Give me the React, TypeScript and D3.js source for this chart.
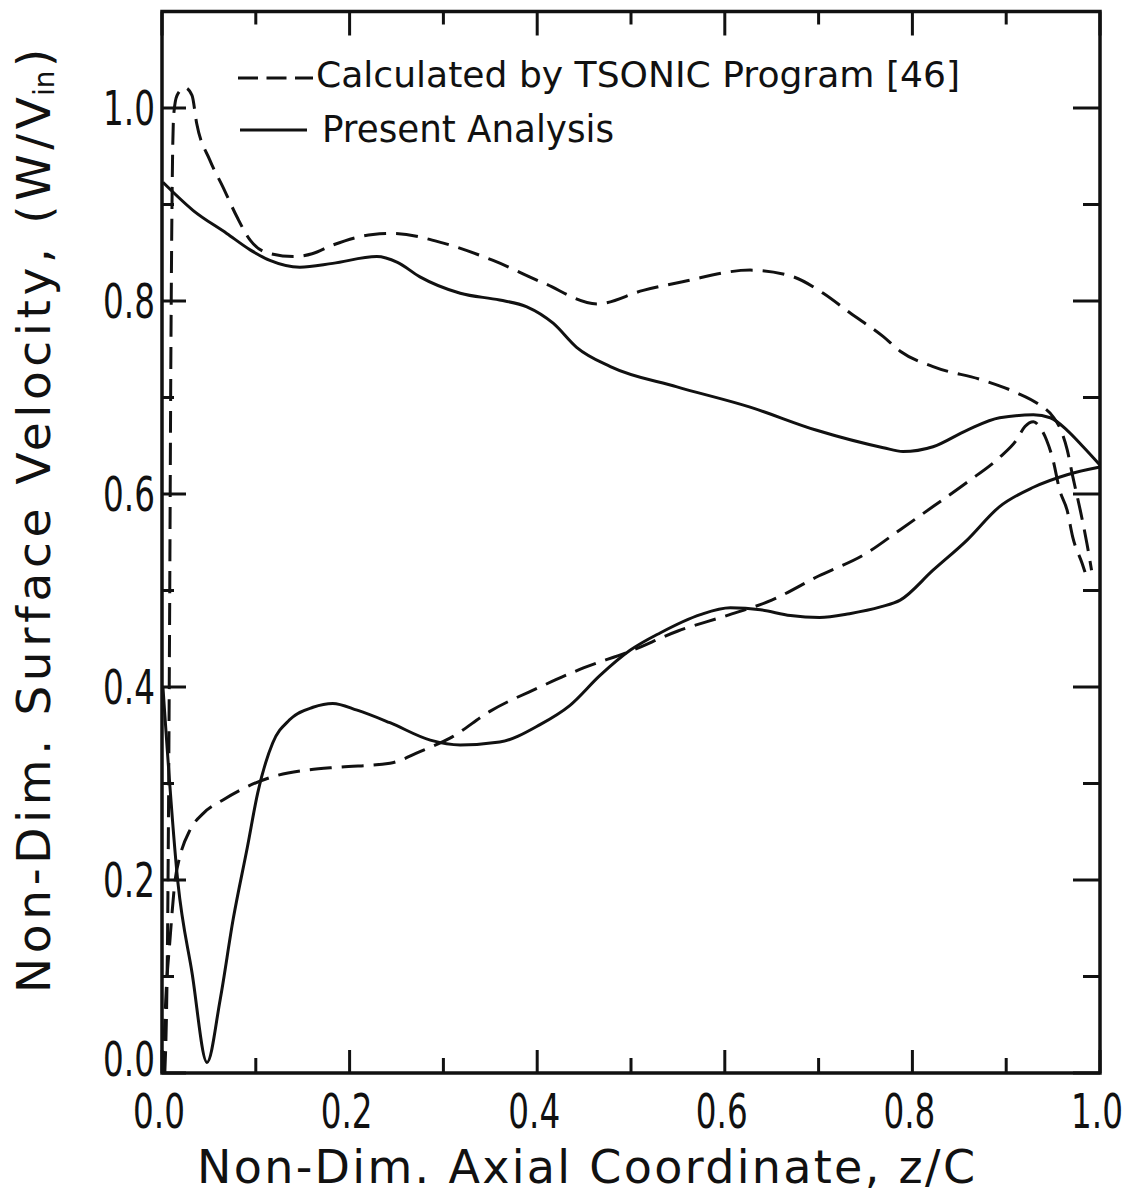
import React from "react";
import * as d3 from "d3";

// ---- data ----
const xTickLabels = ["0.0", "0.2", "0.4", "0.6", "0.8", "1.0"];
const xTickValues = [0, 0.2, 0.4, 0.6, 0.8, 1.0];
const xMinorValues = [0.1, 0.3, 0.5, 0.7, 0.9];
const yTickLabels = ["0.0", "0.2", "0.4", "0.6", "0.8", "1.0"];
const yTickValues = [0, 0.2, 0.4, 0.6, 0.8, 1.0];
const yMinorValues = [0.1, 0.3, 0.5, 0.7, 0.9];

// TSONIC, suction surface (dashed)
const tsonicSuction: [number, number][] = [
  [0.003, 0.0], [0.006, 0.15], [0.008, 0.45], [0.0095, 0.75], [0.011, 0.93],
  [0.0125, 0.993], [0.016, 1.013], [0.0245, 1.021], [0.032, 1.013], [0.037, 0.984],
  [0.051, 0.946], [0.065, 0.918], [0.08, 0.887], [0.094, 0.863], [0.112, 0.85],
  [0.14, 0.846], [0.16, 0.849], [0.182, 0.858], [0.225, 0.869], [0.246, 0.87],
  [0.3, 0.86], [0.353, 0.842], [0.406, 0.819], [0.464, 0.797], [0.513, 0.811],
  [0.555, 0.82], [0.627, 0.832], [0.67, 0.826], [0.705, 0.808], [0.733, 0.788],
  [0.769, 0.763], [0.787, 0.748], [0.822, 0.732], [0.875, 0.718], [0.911, 0.705],
  [0.933, 0.694], [0.95, 0.68], [0.957, 0.669], [0.965, 0.646], [0.971, 0.618],
  [0.979, 0.583], [0.986, 0.549], [0.991, 0.521],
];

// TSONIC, pressure surface (dashed)
const tsonicPressure: [number, number][] = [
  [0.001, 0.0], [0.004, 0.076], [0.0085, 0.138], [0.014, 0.2], [0.019, 0.224],
  [0.03, 0.252], [0.044, 0.269], [0.065, 0.283], [0.083, 0.293], [0.118, 0.307],
  [0.155, 0.314], [0.19, 0.317], [0.243, 0.321], [0.275, 0.333], [0.307, 0.347],
  [0.35, 0.375], [0.403, 0.4], [0.45, 0.42], [0.499, 0.437], [0.55, 0.458],
  [0.602, 0.474], [0.65, 0.49], [0.7, 0.515], [0.75, 0.538], [0.787, 0.563],
  [0.822, 0.587], [0.858, 0.612], [0.893, 0.638], [0.911, 0.656], [0.92, 0.67],
  [0.929, 0.675], [0.936, 0.669], [0.943, 0.656], [0.95, 0.635], [0.957, 0.604],
  [0.965, 0.583], [0.971, 0.555], [0.981, 0.528], [0.984, 0.519],
];

// Present analysis, suction surface (solid)
const presentSuction: [number, number][] = [
  [0.001, 0.923], [0.033, 0.894], [0.069, 0.87], [0.094, 0.853], [0.115, 0.842],
  [0.147, 0.835], [0.182, 0.839], [0.229, 0.846], [0.251, 0.84], [0.275, 0.825],
  [0.318, 0.808], [0.36, 0.801], [0.389, 0.794], [0.417, 0.777], [0.442, 0.752],
  [0.478, 0.732], [0.549, 0.711], [0.627, 0.69], [0.698, 0.666], [0.769, 0.648],
  [0.79, 0.644], [0.822, 0.649], [0.858, 0.666], [0.893, 0.679], [0.929, 0.682],
  [0.947, 0.679], [0.965, 0.666], [0.982, 0.649], [1.0, 0.63],
];

// Present analysis, pressure surface (solid)
const presentPressure: [number, number][] = [
  [0.001, 0.40], [0.017, 0.197], [0.032, 0.104], [0.048, 0.011], [0.062, 0.076],
  [0.076, 0.16], [0.091, 0.234], [0.102, 0.29], [0.118, 0.342], [0.136, 0.366],
  [0.161, 0.379], [0.182, 0.383], [0.208, 0.376], [0.243, 0.363], [0.286, 0.345],
  [0.318, 0.34], [0.36, 0.343], [0.403, 0.361], [0.435, 0.381], [0.467, 0.412],
  [0.499, 0.438], [0.531, 0.456], [0.574, 0.475], [0.606, 0.482], [0.638, 0.48],
  [0.67, 0.474], [0.701, 0.472], [0.733, 0.476], [0.766, 0.483], [0.787, 0.49],
  [0.822, 0.521], [0.858, 0.552], [0.893, 0.587], [0.929, 0.607], [0.965, 0.62],
  [1.0, 0.628],
];

const legendLabels = ["Calculated by TSONIC Program [46]", "Present Analysis"];
const xTitle = "Non-Dim. Axial Coordinate, z/C";
const yTitleMain = "Non-Dim. Surface Velocity, (W/V";
const yTitleSub = "in";
const yTitleEnd = ")";

export default function App() {
  const W = 1143;
  const H = 1195;
  const x = d3.scaleLinear().domain([0, 1]).range([162, 1100]);
  const y = d3.scaleLinear().domain([0, 1.1]).range([1073, 1073 - 1.1 * 965]);

  const line = d3
    .line<[number, number]>()
    .x((d) => x(d[0]))
    .y((d) => y(d[1]))
    .curve(d3.curveMonotoneX);

  const numFont = "'DejaVu Sans', 'Liberation Sans', sans-serif";
  const txtFont = "'DejaVu Sans', 'Liberation Sans', sans-serif";
  const ink = "#111";
  const squeeze = 0.68;

  const x0 = x(0), x1 = x(1), yb = y(0), yt = y(1.1);

  return (
    <svg
      width={W}
      height={H}
      viewBox={`0 0 ${W} ${H}`}
      style={{ position: "absolute", left: 0, top: 0, background: "#fff" }}
    >
      <rect x={0} y={0} width={W} height={H} fill="#fff" />
      {/* frame */}
      <rect x={x0} y={yt} width={x1 - x0} height={yb - yt} fill="none" stroke={ink} strokeWidth={3.5} />

      {/* left / right ticks */}
      {yTickValues.map((v) => (
        <g key={"ym" + v}>
          <line x1={x0} x2={x0 + 24} y1={y(v)} y2={y(v)} stroke={ink} strokeWidth={3} />
          <line x1={x1} x2={x1 - 27} y1={y(v)} y2={y(v)} stroke={ink} strokeWidth={3} />
        </g>
      ))}
      {yMinorValues.map((v) => (
        <g key={"yn" + v}>
          <line x1={x0} x2={x0 + 12} y1={y(v)} y2={y(v)} stroke={ink} strokeWidth={3} />
          <line x1={x1} x2={x1 - 17} y1={y(v)} y2={y(v)} stroke={ink} strokeWidth={3} />
        </g>
      ))}
      {/* bottom / top ticks */}
      {xTickValues.map((v) => (
        <g key={"xm" + v}>
          <line x1={x(v)} x2={x(v)} y1={yb} y2={yb - 23} stroke={ink} strokeWidth={3} />
          <line x1={x(v)} x2={x(v)} y1={yt} y2={yt + 24} stroke={ink} strokeWidth={3} />
        </g>
      ))}
      {xMinorValues.map((v) => (
        <g key={"xn" + v}>
          <line x1={x(v)} x2={x(v)} y1={yb} y2={yb - 15} stroke={ink} strokeWidth={3} />
          <line x1={x(v)} x2={x(v)} y1={yt} y2={yt + 13} stroke={ink} strokeWidth={3} />
        </g>
      ))}

      {/* tick labels */}
      {xTickValues.map((v, i) => (
        <text key={"xl" + v} transform={`translate(${x(v) - 3}, 1128) scale(${squeeze}, 1)`}
          textAnchor="middle" fontFamily={numFont} fontSize={48} fill={ink}>
          {xTickLabels[i]}
        </text>
      ))}
      {yTickValues.map((v, i) => (
        <text key={"yl" + v} transform={`translate(155, ${v === 0 ? y(v) + 3 : y(v) + 17}) scale(${squeeze}, 1)`}
          textAnchor="end" fontFamily={numFont} fontSize={48} fill={ink}>
          {yTickLabels[i]}
        </text>
      ))}

      {/* curves */}
      <path d={line(tsonicSuction) || ""} fill="none" stroke={ink} strokeWidth={3} strokeDasharray="22 10" />
      <path d={line(tsonicPressure) || ""} fill="none" stroke={ink} strokeWidth={3} strokeDasharray="22 10" />
      <path d={line(presentSuction) || ""} fill="none" stroke={ink} strokeWidth={3} />
      <path d={line(presentPressure) || ""} fill="none" stroke={ink} strokeWidth={3} />

      {/* legend */}
      <line x1={238} x2={313} y1={78} y2={78} stroke={ink} strokeWidth={3} strokeDasharray="20 8.5" />
      <text x={316} y={87} fontFamily={txtFont} fontSize={35} fill={ink} textLength={644} lengthAdjust="spacingAndGlyphs">
        {legendLabels[0]}
      </text>
      <line x1={240} x2={307} y1={130} y2={130} stroke={ink} strokeWidth={3} />
      <text x={322} y={142} fontFamily={txtFont} fontSize={37} fill={ink} textLength={292} lengthAdjust="spacingAndGlyphs">
        {legendLabels[1]}
      </text>

      {/* axis titles */}
      <text x={197} y={1183} fontFamily={txtFont} fontSize={46} fill={ink} textLength={778} lengthAdjust="spacing">
        {xTitle}
      </text>
      <g transform="translate(50, 993) rotate(-90)">
        <text x={0} y={0} fontFamily={txtFont} fontSize={47} fill={ink} textLength={896} lengthAdjust="spacing">
          {yTitleMain}
        </text>
        <text x={897} y={4} fontFamily={txtFont} fontSize={28} fill={ink}>
          {yTitleSub}
        </text>
        <text x={926} y={0} fontFamily={txtFont} fontSize={47} fill={ink}>
          {yTitleEnd}
        </text>
      </g>
    </svg>
  );
}
